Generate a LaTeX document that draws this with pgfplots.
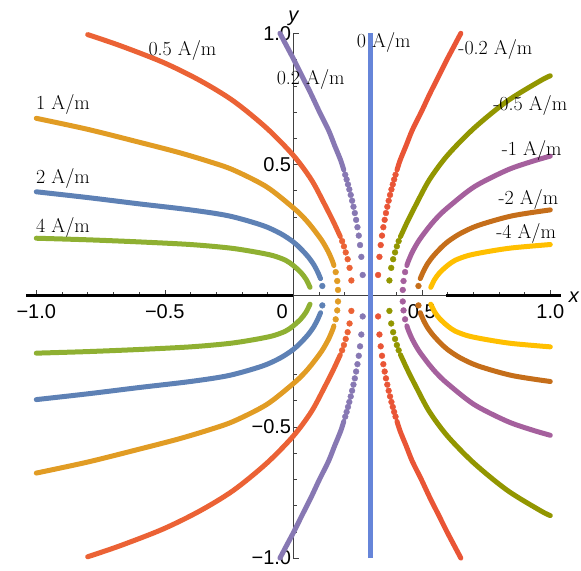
\documentclass[border=0pt]{standalone}
\usepackage{fontspec}
\usepackage{pgfplots}
\pgfplotsset{compat=1.18}
\newfontfamily\tickfont{Liberation Sans}
\newcommand\lab{\fontsize{20}{20}\selectfont}
\definecolor{cGreen}{HTML}{8FB032}
\definecolor{cBlue}{HTML}{5E81B5}
\definecolor{cOrange}{HTML}{E19C24}
\definecolor{cRed}{HTML}{EB6235}
\definecolor{cLav}{HTML}{8778B3}
\definecolor{cZero}{HTML}{6685D9}
\definecolor{cRed2}{HTML}{E95536}
\definecolor{cOlive}{HTML}{929600}
\definecolor{cMag}{HTML}{A5609D}
\definecolor{cBrown}{HTML}{C56E1A}
\definecolor{cYellow}{HTML}{FFBF00}

\pgfplotsset{
  curveline/.style={color=#1, line width=5pt, line cap=round, line join=round, smooth},
  curvedots/.style={color=#1, only marks, mark=*, mark size=2.9pt},
}

\begin{document}
\begin{tikzpicture}
\begin{axis}[
  scale only axis, width=534.56pt, height=524.8pt,
  xmin=-1.04, xmax=1.04, ymin=-1, ymax=1,
  axis lines=middle, clip=false,
  axis line style={black!75, line width=0.6pt, -},
  hide obscured x ticks=false, hide obscured y ticks=false,
  xtick={-1,-0.5,0,0.5,1},
  xticklabels={−1.0,−0.5,{\makebox[0pt][r]{0\hspace{5.5pt}}},0.5,1.0},
  ytick={-1,-0.5,0.5,1},
  yticklabels={−1.0,−0.5,0.5,1.0},
  minor xtick={-0.9,-0.8,-0.7,-0.6,-0.4,-0.3,-0.2,-0.1,0.1,0.2,0.3,0.4,0.6,0.7,0.8,0.9},
  minor ytick={-0.9,-0.8,-0.7,-0.6,-0.4,-0.3,-0.2,-0.1,0.1,0.2,0.3,0.4,0.6,0.7,0.8,0.9},
  tick align=inside,
  major tick length=6pt, minor tick length=3.5pt,
  tick style={black!75, line width=0.5pt},
  ticklabel style={font=\tickfont\fontsize{20}{20}\selectfont, inner sep=0pt},
  xticklabel style={anchor=north, yshift=-9pt},
  yticklabel style={anchor=east, xshift=-2pt},
]
% thick black x-axis segments
\addplot[black, line width=3.4pt] coordinates {(-1.04,0) (0,0)};
\addplot[black, line width=3.4pt] coordinates {(0.595,0) (1.04,0)};

% 0 A/m
\addplot[cZero, line width=4.8pt] coordinates {(0.3,-1) (0.3,1)};

% 4 A/m
\addplot[curveline=cGreen] coordinates {(-1.0,0.219) (-0.8,0.213) (-0.6,0.205) (-0.4,0.195) (-0.25,0.182) (-0.15,0.167) (-0.08,0.153) (-0.03,0.135) (0.0,0.115) (0.03,0.088) (0.05,0.062) (0.065,0.032)};
\addplot[curveline=cGreen] coordinates {(-1.0,-0.219) (-0.8,-0.213) (-0.6,-0.205) (-0.4,-0.195) (-0.25,-0.182) (-0.15,-0.167) (-0.08,-0.153) (-0.03,-0.135) (0.0,-0.115) (0.03,-0.088) (0.05,-0.062) (0.065,-0.032)};
% -4 A/m
\addplot[curveline=cYellow] coordinates {(1.0,0.195) (0.85,0.182) (0.75,0.167) (0.68,0.153) (0.63,0.135) (0.6,0.115) (0.57,0.088) (0.55,0.062) (0.535,0.032)};
\addplot[curveline=cYellow] coordinates {(1.0,-0.195) (0.85,-0.182) (0.75,-0.167) (0.68,-0.153) (0.63,-0.135) (0.6,-0.115) (0.57,-0.088) (0.55,-0.062) (0.535,-0.032)};

% 2 A/m
\addplot[curveline=cBlue] coordinates {(-1.0,0.396) (-0.8,0.374) (-0.6,0.35) (-0.4,0.327) (-0.25,0.304) (-0.12,0.268) (-0.05,0.237) (0.0,0.205) (0.03,0.178) (0.058,0.148) (0.08,0.118) (0.095,0.09) (0.106,0.065)};
\addplot[curveline=cBlue] coordinates {(-1.0,-0.396) (-0.8,-0.374) (-0.6,-0.35) (-0.4,-0.327) (-0.25,-0.304) (-0.12,-0.268) (-0.05,-0.237) (0.0,-0.205) (0.03,-0.178) (0.058,-0.148) (0.08,-0.118) (0.095,-0.09) (0.106,-0.065)};
\addplot[curvedots=cBlue] coordinates {(0.113,0.037) (0.113,-0.037)};
% -2 A/m
\addplot[curveline=cBrown] coordinates {(1.0,0.327) (0.85,0.304) (0.72,0.268) (0.65,0.237) (0.6,0.205) (0.57,0.178) (0.542,0.148) (0.52,0.118) (0.505,0.09) (0.494,0.065)};
\addplot[curveline=cBrown] coordinates {(1.0,-0.327) (0.85,-0.304) (0.72,-0.268) (0.65,-0.237) (0.6,-0.205) (0.57,-0.178) (0.542,-0.148) (0.52,-0.118) (0.505,-0.09) (0.494,-0.065)};
\addplot[curvedots=cBrown] coordinates {(0.487,0.037) (0.487,-0.037)};

% 1 A/m
\addplot[curveline=cOrange] coordinates {(-1.0,0.676) (-0.8,0.634) (-0.6,0.585) (-0.45,0.547) (-0.33,0.512) (-0.233,0.479) (-0.104,0.415) (0.0,0.335) (0.04,0.298) (0.071,0.263) (0.11,0.212) (0.136,0.168) (0.153,0.13) (0.158,0.115)};
\addplot[curveline=cOrange] coordinates {(-1.0,-0.676) (-0.8,-0.634) (-0.6,-0.585) (-0.45,-0.547) (-0.33,-0.512) (-0.233,-0.479) (-0.104,-0.415) (0.0,-0.335) (0.04,-0.298) (0.071,-0.263) (0.11,-0.212) (0.136,-0.168) (0.153,-0.13) (0.158,-0.115)};
\addplot[curvedots=cOrange] coordinates {(0.165,0.09) (0.171,0.056) (0.174,0.022) (0.165,-0.09) (0.171,-0.056) (0.174,-0.022)};
% -1 A/m
\addplot[curveline=cMag] coordinates {(1.0,0.532) (0.93,0.512) (0.833,0.479) (0.704,0.415) (0.6,0.335) (0.56,0.298) (0.529,0.263) (0.49,0.212) (0.464,0.168) (0.447,0.13) (0.442,0.115)};
\addplot[curveline=cMag] coordinates {(1.0,-0.532) (0.93,-0.512) (0.833,-0.479) (0.704,-0.415) (0.6,-0.335) (0.56,-0.298) (0.529,-0.263) (0.49,-0.212) (0.464,-0.168) (0.447,-0.13) (0.442,-0.115)};
\addplot[curvedots=cMag] coordinates {(0.435,0.09) (0.429,0.056) (0.426,0.022) (0.435,-0.09) (0.429,-0.056) (0.426,-0.022)};

% 0.5 A/m
\addplot[curveline=cRed] coordinates {(-0.8,0.995) (-0.674,0.953) (-0.506,0.889) (-0.363,0.82) (-0.233,0.742) (-0.104,0.639) (0.0,0.535) (0.071,0.441) (0.123,0.346) (0.156,0.282) (0.175,0.242) (0.183,0.225)};
\addplot[curveline=cRed] coordinates {(-0.8,-0.995) (-0.674,-0.953) (-0.506,-0.889) (-0.363,-0.82) (-0.233,-0.742) (-0.104,-0.639) (0.0,-0.535) (0.071,-0.441) (0.123,-0.346) (0.156,-0.282) (0.175,-0.242) (0.183,-0.225)};
\addplot[curvedots=cRed] coordinates {(0.19,0.208) (0.197,0.188) (0.204,0.165) (0.2115,0.139) (0.219,0.106) (0.226,0.058) (0.19,-0.208) (0.197,-0.188) (0.204,-0.165) (0.2115,-0.139) (0.219,-0.106) (0.226,-0.058)};
% -0.5 A/m
\addplot[curveline=cOlive] coordinates {(1.0,0.838) (0.963,0.82) (0.833,0.742) (0.704,0.639) (0.6,0.535) (0.529,0.441) (0.477,0.346) (0.444,0.282) (0.425,0.242) (0.417,0.225)};
\addplot[curveline=cOlive] coordinates {(1.0,-0.838) (0.963,-0.82) (0.833,-0.742) (0.704,-0.639) (0.6,-0.535) (0.529,-0.441) (0.477,-0.346) (0.444,-0.282) (0.425,-0.242) (0.417,-0.225)};
\addplot[curvedots=cOlive] coordinates {(0.41,0.208) (0.403,0.188) (0.396,0.165) (0.3885,0.139) (0.381,0.106) (0.374,0.058) (0.41,-0.208) (0.403,-0.188) (0.396,-0.165) (0.3885,-0.139) (0.381,-0.106) (0.374,-0.058)};

% 0.2 A/m
\addplot[curveline=cLav] coordinates {(-0.052,1.0) (-0.025,0.95) (0.003,0.898) (0.035,0.835) (0.068,0.771) (0.102,0.70) (0.137,0.631) (0.161,0.572) (0.184,0.517) (0.1965,0.479)};
\addplot[curveline=cLav] coordinates {(-0.052,-1.0) (-0.025,-0.95) (0.003,-0.898) (0.035,-0.835) (0.068,-0.771) (0.102,-0.70) (0.137,-0.631) (0.161,-0.572) (0.184,-0.517) (0.1965,-0.479)};
\addplot[curvedots=cLav] coordinates {(0.2021,0.461) (0.2075,0.443) (0.2129,0.424) (0.2181,0.405) (0.2235,0.384) (0.2289,0.362) (0.2342,0.339) (0.2394,0.315) (0.2445,0.289) (0.2496,0.261) (0.2548,0.229) (0.2598,0.193) (0.2648,0.148) (0.270,0.079)
  (0.2021,-0.461) (0.2075,-0.443) (0.2129,-0.424) (0.2181,-0.405) (0.2235,-0.384) (0.2289,-0.362) (0.2342,-0.339) (0.2394,-0.315) (0.2445,-0.289) (0.2496,-0.261) (0.2548,-0.229) (0.2598,-0.193) (0.2648,-0.148) (0.270,-0.079)};
% -0.2 A/m
\addplot[curveline=cRed2] coordinates {(0.652,1.0) (0.625,0.95) (0.597,0.898) (0.565,0.835) (0.532,0.771) (0.498,0.70) (0.463,0.631) (0.439,0.572) (0.416,0.517) (0.4035,0.479)};
\addplot[curveline=cRed2] coordinates {(0.652,-1.0) (0.625,-0.95) (0.597,-0.898) (0.565,-0.835) (0.532,-0.771) (0.498,-0.70) (0.463,-0.631) (0.439,-0.572) (0.416,-0.517) (0.4035,-0.479)};
\addplot[curvedots=cRed2] coordinates {(0.3979,0.461) (0.3925,0.443) (0.3871,0.424) (0.3819,0.405) (0.3765,0.384) (0.3711,0.362) (0.3658,0.339) (0.3606,0.315) (0.3555,0.289) (0.3504,0.261) (0.3452,0.229) (0.3402,0.193) (0.3352,0.148) (0.330,0.079)
  (0.3979,-0.461) (0.3925,-0.443) (0.3871,-0.424) (0.3819,-0.405) (0.3765,-0.384) (0.3711,-0.362) (0.3658,-0.339) (0.3606,-0.315) (0.3555,-0.289) (0.3504,-0.261) (0.3452,-0.229) (0.3402,-0.193) (0.3352,-0.148) (0.330,-0.079)};

% curve labels
\node[anchor=base west, inner sep=0pt, font=\lab] at (axis cs:-0.564,0.917) {0.5 A/m};
\node[anchor=base west, inner sep=0pt, font=\lab] at (axis cs:-1.001,0.710) {1 A/m};
\node[anchor=base west, inner sep=0pt, font=\lab] at (axis cs:-1.001,0.428) {2 A/m};
\node[anchor=base west, inner sep=0pt, font=\lab] at (axis cs:-1.001,0.240) {4 A/m};
\node[anchor=base west, inner sep=0pt, font=\lab] at (axis cs:-0.065,0.806) {0.2 A/m};
\node[anchor=base west, inner sep=0pt, font=\lab] at (axis cs:0.247,0.945) {0 A/m};
\node[anchor=base west, inner sep=0pt, font=\lab] at (axis cs:0.642,0.920) {-0.2 A/m};
\node[anchor=base west, inner sep=0pt, font=\lab] at (axis cs:0.778,0.705) {-0.5 A/m};
\node[anchor=base west, inner sep=0pt, font=\lab] at (axis cs:0.811,0.536) {-1 A/m};
\node[anchor=base west, inner sep=0pt, font=\lab] at (axis cs:0.798,0.348) {-2 A/m};
\node[anchor=base west, inner sep=0pt, font=\lab] at (axis cs:0.789,0.219) {-4 A/m};

% axis labels
\node[font=\tickfont\itshape\fontsize{20}{20}\selectfont, inner sep=0pt] at (axis cs:1.092,-0.005) {x};
\node[font=\tickfont\itshape\fontsize{20}{20}\selectfont, inner sep=0pt] at (axis cs:0.0,1.058) {y};

\coordinate (bbsw) at (axis cs:-1.1412,-1.0454);
\coordinate (bbne) at (axis cs:1.1195,1.1269);
\end{axis}
\pgfresetboundingbox
\path[use as bounding box] (bbsw) rectangle (bbne);
\end{tikzpicture}
\end{document}
